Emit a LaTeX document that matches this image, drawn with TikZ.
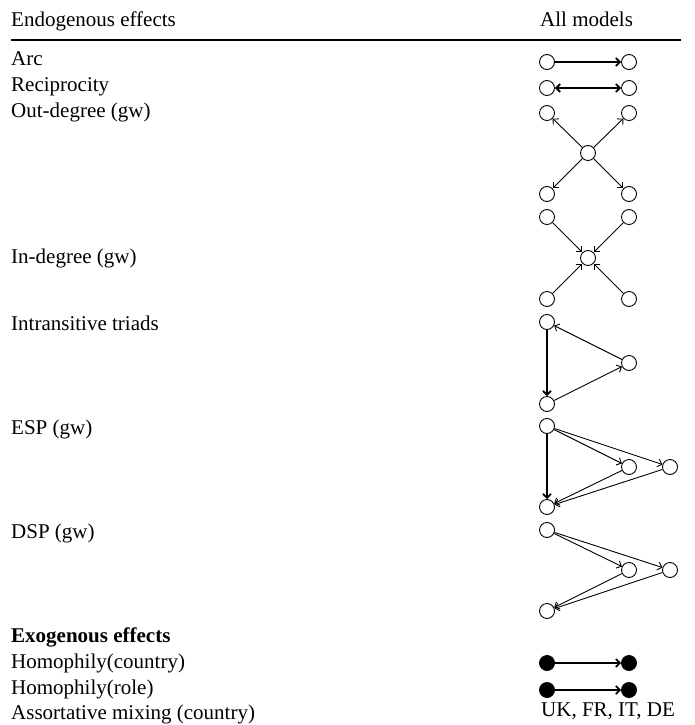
\documentclass[tikz,border=0pt]{standalone}
\usepackage{fontspec}
\setmainfont{Liberation Serif}
\usetikzlibrary{arrows.meta}

\begin{document}
\begin{tikzpicture}[x=1pt,y=-1pt,
  lbl/.style={anchor=base west,inner sep=0pt,font=\fontsize{21}{24}\selectfont},
  vtx/.style={circle,draw,line width=0.9pt,minimum size=15pt,inner sep=0pt},
  fvtx/.style={vtx,fill=black},
  tie/.style={line width=0.9pt,-{Straight Barb[length=4pt,width=8pt]}},
  btie/.style={tie,line width=1.8pt}]
\useasboundingbox (0,0) rectangle (694,725);
% header
\node[lbl] (hleft) at (11,27) {Endogenous effects};
\node[lbl] (hright) at (540,27) {All models};
\draw[line width=2pt] (11,40)--(681,40);
% effect names
\node[lbl] (arc) at (11,66) {Arc};
\node[lbl] (rec) at (11,91) {Reciprocity};
\node[lbl] (odeg) at (11,117) {Out-degree (gw)};
\node[lbl] (ideg) at (11,263) {In-degree (gw)};
\node[lbl] (itri) at (11,330) {Intransitive triads};
\node[lbl] (esp) at (11,434) {ESP (gw)};
\node[lbl] (dsp) at (11,538) {DSP (gw)};
\node[lbl,font=\fontsize{21}{24}\selectfont\bfseries] (exo) at (11,642) {Exogenous effects};
\node[lbl] (hcty) at (11,668) {Homophily(country)};
\node[lbl] (hrole) at (11,694) {Homophily(role)};
\node[lbl] (amix) at (11,719) {Assortative mixing (country)};
% arc and reciprocity
\node[vtx] (a1) at (547,62) {};
\node[vtx] (a2) at (629,62) {};
\draw[btie] (a1)--(a2);
\node[vtx] (r1) at (547,88) {};
\node[vtx] (r2) at (629,88) {};
\draw[btie,{Straight Barb[length=4pt,width=8pt]}-{Straight Barb[length=4pt,width=8pt]}] (r1)--(r2);
% out-degree
\node[vtx] (o1) at (547,113) {};
\node[vtx] (o2) at (629,113) {};
\node[vtx] (oc) at (588,153) {};
\node[vtx] (o3) at (547,194) {};
\node[vtx] (o4) at (629,194) {};
\foreach \v in {o1,o2,o3,o4} \draw[tie] (oc)--(\v);
% in-degree
\node[vtx] (i1) at (547,217) {};
\node[vtx] (i2) at (629,217) {};
\node[vtx] (ic) at (588,258) {};
\node[vtx] (i3) at (547,299) {};
\node[vtx] (i4) at (629,299) {};
\foreach \v in {i1,i2,i3,i4} \draw[tie] (\v)--(ic);
% intransitive triad
\node[vtx] (t1) at (547,322) {};
\node[vtx] (t2) at (629,363) {};
\node[vtx] (t3) at (547,404) {};
\draw[btie] (t1)--(t3);
\draw[tie] (t3)--(t2);
\draw[tie] (t2)--(t1);
% ESP
\node[vtx] (e1) at (547,426) {};
\node[vtx] (e2) at (629,467) {};
\node[vtx] (e3) at (670,467) {};
\node[vtx] (e4) at (547,507) {};
\draw[btie] (e1)--(e4);
\foreach \v in {e2,e3} {
  \draw[tie] (e1)--(\v);
  \draw[tie] (\v)--(e4);
}
% DSP
\node[vtx] (d1) at (547,530) {};
\node[vtx] (d2) at (629,570) {};
\node[vtx] (d3) at (670,570) {};
\node[vtx] (d4) at (547,611) {};
\foreach \v in {d2,d3} {
  \draw[tie] (d1)--(\v);
  \draw[tie] (\v)--(d4);
}
% exogenous
\node[fvtx] (c1) at (547,663) {};
\node[fvtx] (c2) at (629,663) {};
\draw[btie] (c1)--(c2);
\node[fvtx] (p1) at (547,690) {};
\node[fvtx] (p2) at (629,690) {};
\draw[btie] (p1)--(p2);
\node[lbl] (ctys) at (541,716) {UK, FR, IT, DE};
\end{tikzpicture}
\end{document}
